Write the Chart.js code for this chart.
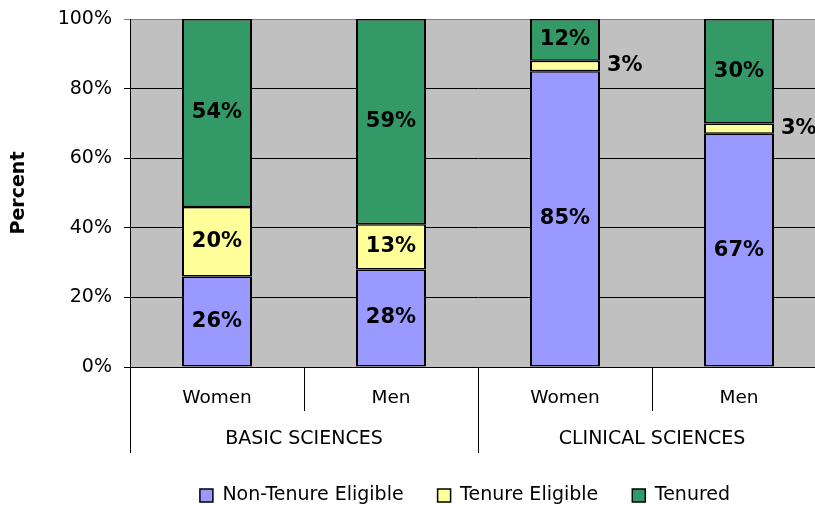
<!DOCTYPE html>
<html>
<head>
<meta charset="utf-8">
<script src="https://cdn.jsdelivr.net/npm/chart.js@4/dist/chart.umd.min.js"></script>
<style>
  html, body { margin: 0; padding: 0; overflow: hidden; background: #fff; }
  #wrap { width: 830px; height: 506px; }
</style>
</head>
<body>
<div id="wrap"><canvas id="c" width="830" height="506"></canvas></div>
<script>
// ---- data ----
const CATEGORIES = ['Women', 'Men', 'Women', 'Men'];
const GROUPS = ['BASIC SCIENCES', 'CLINICAL SCIENCES'];
const SERIES_NAMES = ['Non-Tenure Eligible', 'Tenure Eligible', 'Tenured'];
const NON_TENURE = [26, 28, 85, 67];
const TENURE_ELIGIBLE = [20, 13, 3, 3];
const TENURED = [54, 59, 12, 30];
const Y_MIN = 0, Y_MAX = 100, Y_STEP = 20;

// ---- styling ----
const COLORS = ['#9999FF', '#FFFF99', '#339966'];
const FONT = 'DejaVu Sans';
Chart.defaults.font.family = FONT;
Chart.defaults.color = '#000';

const plotBg = {
  id: 'plotBg',
  beforeDraw(chart) {
    const a = chart.chartArea, ctx = chart.ctx;
    ctx.save();
    ctx.fillStyle = '#C0C0C0';
    ctx.fillRect(a.left, a.top, a.right - a.left, a.bottom - a.top);
    ctx.restore();
  }
};

const layoutTweaks = {
  id: 'layoutTweaks',
  beforeLayout(chart) {
    const lg = chart.legend;
    if (lg && !lg._patched) {
      const fit = lg.fit.bind(lg);
      lg.fit = function () { fit(); this.height = 52; };
      lg._patched = true;
    }
  },
  afterLayout(chart) {
    const lg = chart.legend;
    if (lg) {
      lg.left += 52; lg.right += 52;
      lg.top -= 2; lg.bottom -= 2;
    }
  }
};

const valueLabels = {
  id: 'valueLabels',
  afterDatasetsDraw(chart) {
    const ctx = chart.ctx;
    ctx.save();
    ctx.fillStyle = '#000';
    ctx.font = 'bold 21px "' + FONT + '"';
    ctx.textBaseline = 'middle';
    chart.data.datasets.forEach((ds, di) => {
      const meta = chart.getDatasetMeta(di);
      meta.data.forEach((bar, i) => {
        const v = ds.data[i];
        const p = bar.getProps(['x', 'y', 'base', 'width'], true);
        const h = Math.abs(p.base - p.y);
        const cy = (p.y + p.base) / 2;
        if (h < 25) {
          ctx.textAlign = 'left';
          ctx.fillText(v + '%', p.x + p.width / 2 + 7, cy);
        } else {
          ctx.textAlign = 'center';
          ctx.fillText(v + '%', p.x, cy);
        }
      });
    });
    ctx.restore();
  }
};

const mkDs = (label, data, color) => ({
  label, data,
  backgroundColor: color,
  borderColor: '#000',
  borderWidth: { top: 1.5, bottom: 1.5, left: 2, right: 2 },
  borderSkipped: false,
  categoryPercentage: 1,
  barPercentage: 0.4023
});

new Chart(document.getElementById('c'), {
  type: 'bar',
  data: {
    labels: CATEGORIES,
    datasets: [
      mkDs(SERIES_NAMES[0], NON_TENURE, COLORS[0]),
      mkDs(SERIES_NAMES[1], TENURE_ELIGIBLE, COLORS[1]),
      mkDs(SERIES_NAMES[2], TENURED, COLORS[2])
    ]
  },
  options: {
    responsive: false,
    animation: false,
    layout: { padding: { top: 19, right: 4, left: 0, bottom: 0 } },
    plugins: {
      legend: {
        position: 'bottom',
        labels: {
          boxWidth: 13, boxHeight: 13, padding: 34,
          font: { size: 19, family: FONT }, color: '#000',
          generateLabels: chart => Chart.defaults.plugins.legend.labels.generateLabels(chart)
            .map(l => Object.assign(l, { lineWidth: 1.5 }))
        }
      },
      tooltip: { enabled: false }
    },
    scales: {
      x: {
        type: 'category',
        stacked: true,
        position: 'bottom',
        grid: { offset: true, drawOnChartArea: false, drawTicks: true, tickLength: 44, color: '#000', lineWidth: 1 },
        border: { display: true, color: '#000', width: 1 },
        ticks: { padding: -24, font: { size: 18.5, family: FONT }, color: '#000', autoSkip: false, maxRotation: 0 },
        afterFit: s => { s.height = 44; }
      },
      x2: {
        type: 'category',
        labels: GROUPS,
        position: 'bottom',
        grid: { offset: true, drawOnChartArea: false, drawTicks: true, tickLength: 42, color: '#000', lineWidth: 1 },
        border: { display: false },
        ticks: { padding: -25, font: { size: 19, family: FONT }, color: '#000', autoSkip: false, maxRotation: 0 },
        afterFit: s => { s.height = 43; }
      },
      y: {
        stacked: true,
        min: Y_MIN, max: Y_MAX,
        ticks: {
          stepSize: Y_STEP, padding: 12,
          font: { size: 19, family: FONT }, color: '#000',
          callback: v => v + '%'
        },
        grid: {
          color: c => (c.tick && c.tick.value === Y_MAX) ? '#808080' : '#000',
          lineWidth: 1, tickLength: 6, drawTicks: true
        },
        border: { display: true, color: '#000', width: 1 },
        title: {
          display: true, text: 'Percent', color: '#000',
          font: { size: 19, weight: 'bold', family: FONT },
          padding: { top: 8, bottom: 0 }
        },
        afterFit: s => { s.width = 130; s.paddingTop = 0; s.paddingBottom = 0; }
      }
    }
  },
  plugins: [plotBg, layoutTweaks, valueLabels]
});
</script>
</body>
</html>
